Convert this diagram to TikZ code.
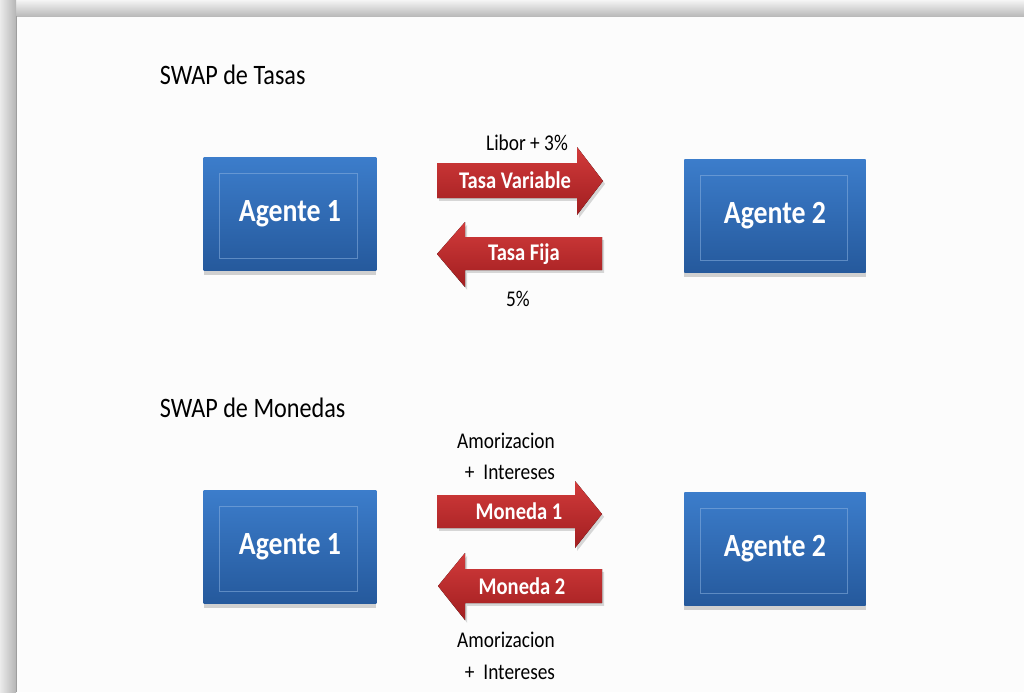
\documentclass[tikz,border=0pt]{standalone}
\usepackage{fontspec}
\setmainfont{Carlito}[FakeStretch=0.86]
\usetikzlibrary{shadows}

\definecolor{agentblue}{HTML}{2E6CB5}
\definecolor{agenttop}{HTML}{3C7DCB}
\definecolor{agentbot}{HTML}{25599C}
\definecolor{flowred}{HTML}{C42A2B}
\definecolor{flowtop}{HTML}{D23B3B}
\definecolor{flowbot}{HTML}{A11E20}

\tikzset{
  agent/.style={rectangle, minimum width=123pt, minimum height=81pt,
    top color=agenttop, bottom color=agentbot, draw=none,
    drop shadow={shadow xshift=0pt, shadow yshift=-3pt, opacity=0.35},
    text=white, font=\fontsize{23}{25}\selectfont\bfseries},
  inner/.style={draw=agenttop!60!white, line width=0.6pt, opacity=0.55},
  flow/.style={top color=flowtop, bottom color=flowbot,
    drop shadow={shadow xshift=1.5pt, shadow yshift=-2pt, opacity=0.3}},
  flowtext/.style={text=white, font=\fontsize{17}{19}\selectfont\bfseries},
  label/.style={font=\fontsize{16}{18}\selectfont},
  heading/.style={anchor=west, font=\fontsize{20}{22}\selectfont}
}

\begin{document}
\begin{tikzpicture}[x=0.025cm,y=-0.025cm]
    \useasboundingbox (0,0) rectangle (1024,692);
    \fill[white!99!black] (0,0) rectangle (1024,692);

    % Frame
    \shade[top color=black!4, bottom color=black!27] (0,0) rectangle (1024,16);
    \shade[left color=black!8, right color=black!29] (0,0) rectangle (16,692);
    \fill[black!38] (16,16) rectangle (17,692);

    % Headings
    \node[heading] (swaptasas) at (155,75) {SWAP de Tasas};
    \node[heading] (swapmonedas) at (155,408) {SWAP de Monedas};

    % Agents, interest rate swap
    \node[agent] (a1) at (290,214) {Agente 1};
    \node[agent, minimum width=129pt] (a2) at (775,216) {Agente 2};
    % Agents, currency swap
    \node[agent] (b1) at (290,547) {Agente 1};
    \node[agent, minimum width=129pt] (b2) at (775,549) {Agente 2};

    % Inner frames
    \foreach \n in {a1,a2,b1,b2}
      \draw[inner] ([shift={(16,17)}]\n.north west) rectangle ([shift={(-19,-13)}]\n.south east);

    % Interest rate flows
    \fill[flow] (437,163) -- (577,163) -- (577,147) -- (603,181) -- (577,215)
      -- (577,198) -- (437,198) -- cycle;
    \node[flowtext] (variable) at (515,180) {Tasa Variable};
    \node[label] (libor) at (527,143) {Libor + 3\%};

    \fill[flow] (602,237) -- (465,237) -- (465,222) -- (437,254) -- (465,287)
      -- (465,270) -- (602,270) -- cycle;
    \node[flowtext] (fija) at (524,254) {Tasa Fija};
    \node[label] (cinco) at (518,299) {5\%};

    % Currency flows
    \fill[flow] (437,495) -- (575,495) -- (575,481) -- (602,514) -- (575,548)
      -- (575,528) -- (437,528) -- cycle;
    \node[flowtext] (moneda1) at (519,511) {Moneda 1};
    \node[label] (amor1) at (506,441) {Amorizacion};
    \node[label] (int1) at (510,472) {+\ \ Intereses};

    \fill[flow] (602,569) -- (465,569) -- (465,553) -- (438,586) -- (465,620)
      -- (465,603) -- (602,603) -- cycle;
    \node[flowtext] (moneda2) at (522,586) {Moneda 2};
    \node[label] (amor2) at (506,640) {Amorizacion};
    \node[label] (int2) at (510,672) {+\ \ Intereses};
\end{tikzpicture}
\end{document}
